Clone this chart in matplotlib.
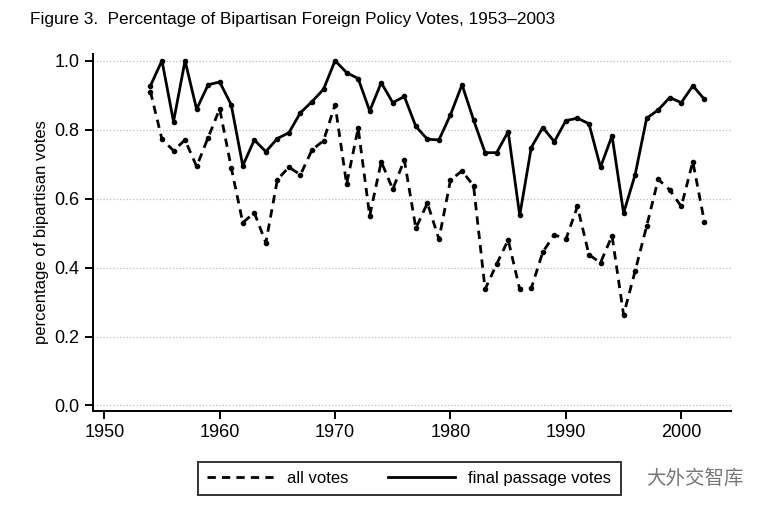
import matplotlib
matplotlib.use('Agg')
import matplotlib.pyplot as plt

years = list(range(1954, 2003))

all_votes = [0.910, 0.772, 0.739, 0.770, 0.693, 0.777, 0.860, 0.690, 0.530, 0.559,
             0.472, 0.655, 0.691, 0.669, 0.741, 0.768, 0.872, 0.642, 0.804, 0.550,
             0.707, 0.627, 0.712, 0.514, 0.587, 0.482, 0.654, 0.680, 0.637, 0.337,
             0.410, 0.480, 0.337, 0.340, 0.445, 0.495, 0.482, 0.577, 0.437, 0.414,
             0.492, 0.263, 0.390, 0.520, 0.656, 0.625, 0.577, 0.707, 0.533]

final_votes = [0.927, 1.000, 0.823, 1.000, 0.859, 0.930, 0.938, 0.872, 0.695, 0.770,
               0.736, 0.774, 0.791, 0.849, 0.881, 0.917, 1.000, 0.965, 0.948, 0.854,
               0.936, 0.878, 0.896, 0.809, 0.772, 0.770, 0.843, 0.930, 0.828, 0.733,
               0.733, 0.794, 0.551, 0.748, 0.806, 0.765, 0.826, 0.833, 0.817, 0.691,
               0.782, 0.558, 0.669, 0.833, 0.857, 0.893, 0.878, 0.927, 0.888]

x_ticks = [1950, 1960, 1970, 1980, 1990, 2000]
y_ticks = [0.0, 0.2, 0.4, 0.6, 0.8, 1.0]

plt.rcParams['font.family'] = ['Liberation Sans', 'DejaVu Sans']

fig = plt.figure(figsize=(7.62, 5.09), dpi=100)
ax = fig.add_axes([0.1217, 0.1925, 0.8375, 0.702])

ax.plot(years, all_votes, color='black', lw=2, ls=(0, (3, 2.2)),
        marker='o', ms=3, label='all votes')
ax.plot(years, final_votes, color='black', lw=2, ls='-',
        marker='o', ms=3, label='final passage votes')

ax.set_xlim(1949, 2004.3)
ax.set_ylim(-0.016, 1.02)
ax.set_xticks(x_ticks)
ax.set_yticks(y_ticks)
ax.set_yticklabels(['%.1f' % v for v in y_ticks])
ax.yaxis.grid(True, color='#bbbbbb', ls=':', lw=0.9)
ax.set_axisbelow(True)

for s in ['top', 'right']:
    ax.spines[s].set_visible(False)
for s in ['left', 'bottom']:
    ax.spines[s].set_linewidth(1.4)
ax.tick_params(direction='out', length=6, width=1.4, labelsize=13)
ax.set_ylabel('percentage of bipartisan votes', fontsize=12, labelpad=4)

fig.text(0.039, 0.962, 'Figure 3.  Percentage of Bipartisan Foreign Policy Votes, 1953\u20132003',
         fontsize=12.4, va='center', ha='left')

leg = fig.legend(loc='center', bbox_to_anchor=(0.537, 0.06), ncol=2,
                 handlelength=4.0, columnspacing=2.4, fontsize=12,
                 frameon=True, fancybox=False, edgecolor='black',
                 borderpad=0.55, markerscale=0)
leg.get_frame().set_linewidth(1.4)
for h in leg.get_lines():
    h.set_marker('')

fig.text(0.848, 0.06, '大外交智库', fontsize=14, color='#777777', va='center',
         ha='left', family=['Noto Sans CJK SC', 'DejaVu Sans'])

fig.savefig('out.png', dpi=100)
